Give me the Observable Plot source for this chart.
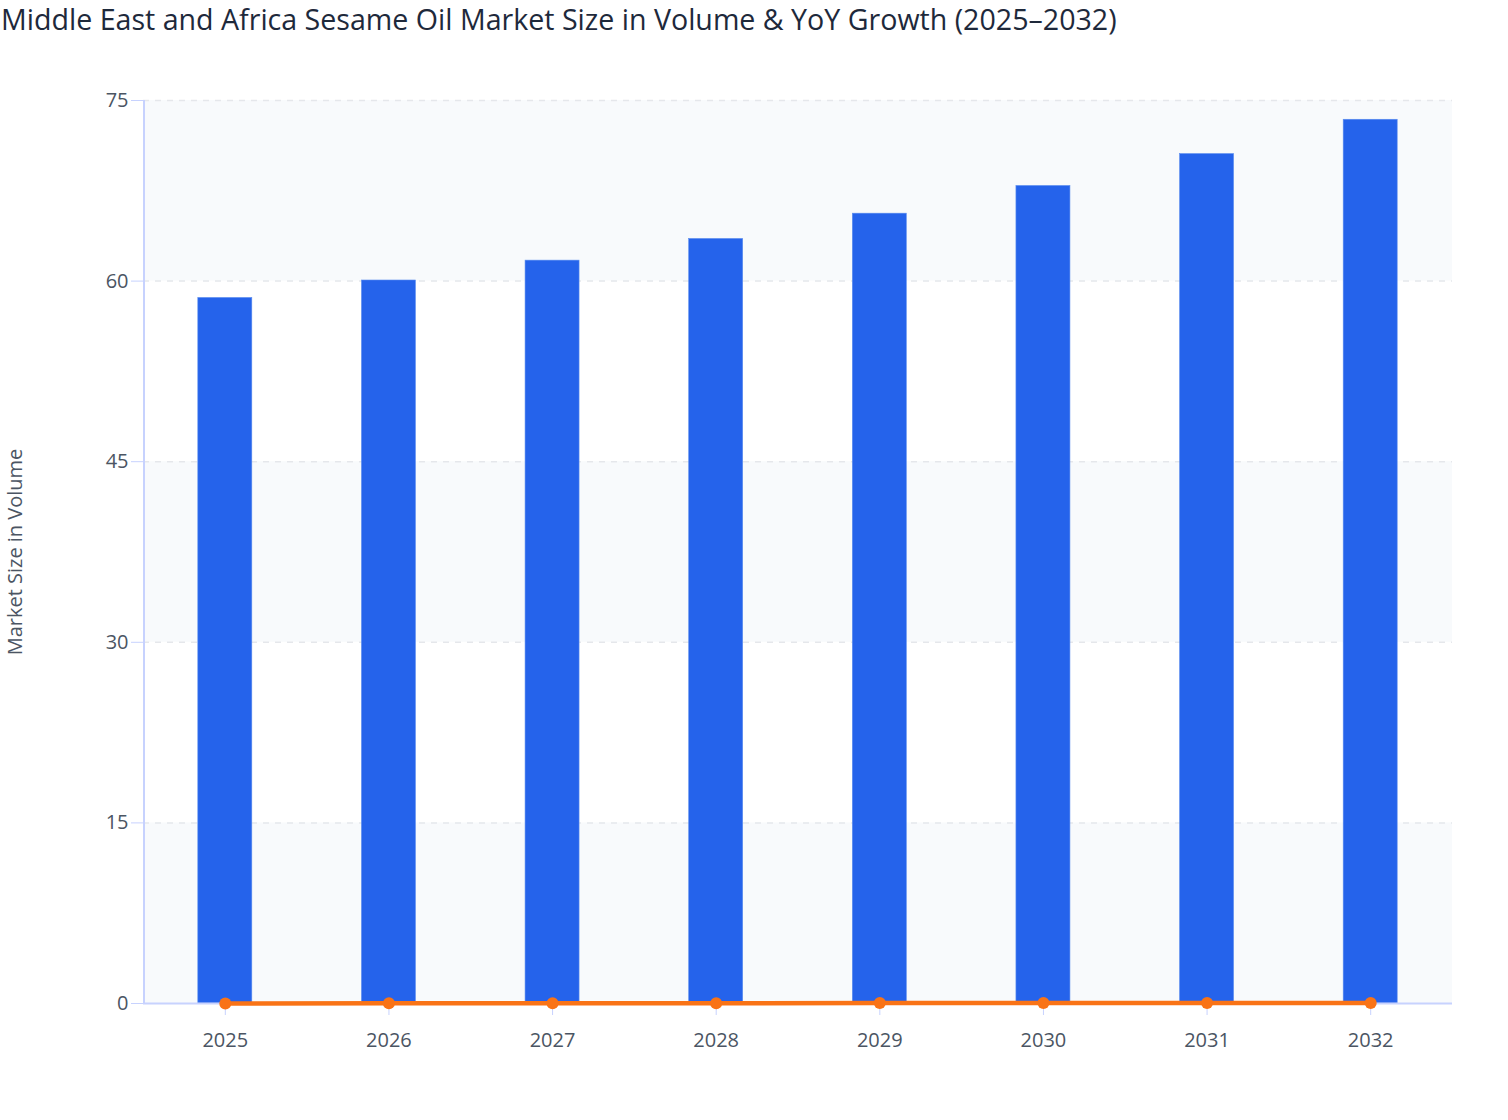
<!DOCTYPE html>
<html><head><meta charset="utf-8">
<script src="https://cdn.jsdelivr.net/npm/d3@7"></script>
<script src="https://cdn.jsdelivr.net/npm/@observablehq/plot@0.6"></script>
<style>
html,body{margin:0;padding:0;background:#fff;overflow:hidden;}
#title{font-family:"Open Sans",sans-serif;font-size:28.6px;color:#1e293b;height:50px;line-height:38px;padding-left:1px;white-space:nowrap;}
#chart svg{display:block;}
</style></head><body>
<div id="title">Middle East and Africa Sesame Oil Market Size in Volume &amp; YoY Growth (2025–2032)</div>
<div id="chart"></div>
<script>
const years = ["2025","2026","2027","2028","2029","2030","2031","2032"];
const volume = [58.6, 60.05, 61.7, 63.5, 65.6, 67.9, 70.55, 73.4];
const yoyGrowth = [0, 0.025, 0.027, 0.029, 0.033, 0.035, 0.039, 0.040];
const yTicks = [0, 15, 30, 45, 60, 75];
const shadedLow = [0, 30, 60];
const shadedHigh = [15, 45, 75];

const data = years.map((year, i) => ({year, volume: volume[i], growth: yoyGrowth[i]}));
const bands = shadedLow.map((lo, i) => ({lo, hi: shadedHigh[i]}));

const axisColor = "#c7d2fe";
const plot = Plot.plot({
  width: 1508, height: 1070,
  marginTop: 50, marginLeft: 143, marginRight: 56, marginBottom: 117,
  style: {fontFamily: '"Open Sans", sans-serif', fontSize: "20px", color: "#4b5563", background: "#fff"},
  x: {domain: years, paddingInner: 0.67, paddingOuter: 0.335, round: false, axis: null},
  y: {domain: [0, 75], axis: null},
  marks: [
    Plot.rect(bands, {y1: "lo", y2: "hi", fill: "#f8fafc"}),
    Plot.ruleY(yTicks.slice(1), {stroke: "#e5e7eb", strokeDasharray: "6,6", strokeWidth: 1.5}),
    Plot.barY(data, {x: "year", y: "volume", fill: "#2563eb", stroke: "#5b8def", strokeWidth: 0.6}),
    Plot.ruleY([0], {stroke: axisColor, strokeWidth: 2}),
    Plot.axisY({ticks: yTicks, tickSize: 12, tickPadding: 3, stroke: axisColor, fill: "#4b5563",
      label: "Market Size in Volume", labelAnchor: "center", labelOffset: 136, labelArrow: "none"}),
    Plot.axisX({tickSize: 12, tickPadding: 17, stroke: axisColor, fill: "#4b5563", label: null}),
    Plot.line(data, {x: "year", y: "growth", stroke: "#f97316", strokeWidth: 4.5}),
    Plot.dot(data, {x: "year", y: "growth", r: 6, fill: "#f97316"})
  ]
});
// left axis line along the frame edge
const yr = plot.scale("y").range;
d3.select(plot).append("line")
  .attr("x1", 144).attr("x2", 144)
  .attr("y1", Math.min(...yr)).attr("y2", Math.max(...yr) + 1)
  .attr("stroke", axisColor).attr("stroke-width", 2);
document.getElementById("chart").append(plot);
</script>
</body></html>
